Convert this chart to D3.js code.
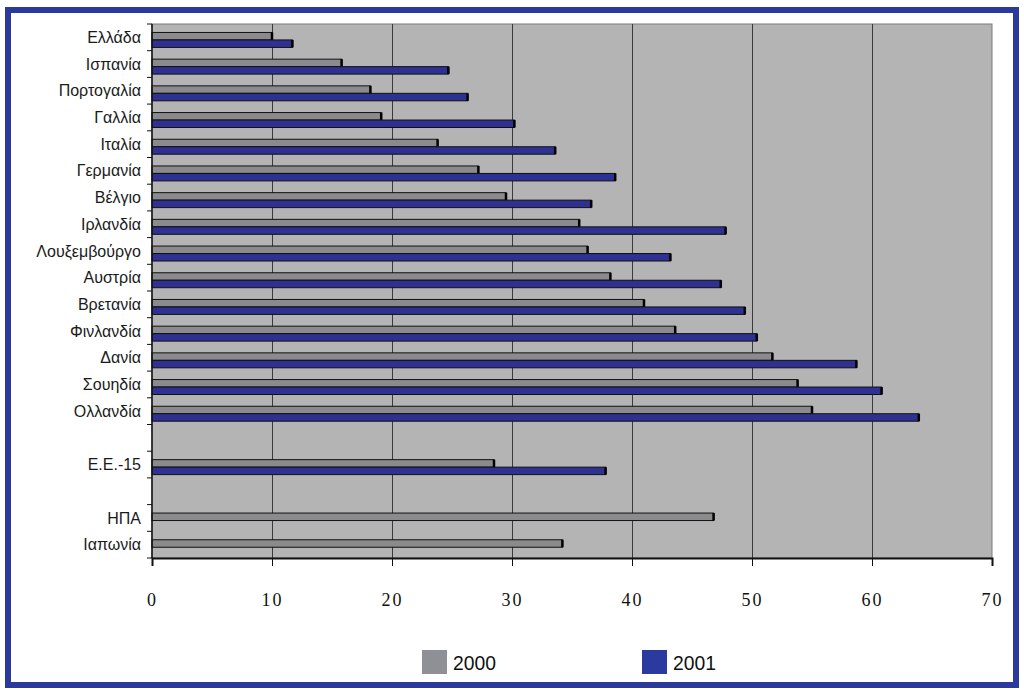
<!DOCTYPE html>
<html>
<head>
<meta charset="utf-8">
<script src="https://cdn.jsdelivr.net/npm/d3@7"></script>
<style>
  body { margin: 0; background: #fff; }
  svg { display: block; }
</style>
</head>
<body>
<div id="chart"></div>
<script>
// categories top to bottom, empty strings are spacer rows
var categories = ['Ελλάδα', 'Ισπανία', 'Πορτογαλία', 'Γαλλία', 'Ιταλία', 'Γερμανία', 'Βέλγιο',
  'Ιρλανδία', 'Λουξεμβούργο', 'Αυστρία', 'Βρετανία', 'Φινλανδία', 'Δανία', 'Σουηδία', 'Ολλανδία',
  '', 'Ε.Ε.-15', '', 'ΗΠΑ', 'Ιαπωνία'];
var values2000 = [10.0, 15.8, 18.2, 19.1, 23.8, 27.2, 29.5, 35.6, 36.3, 38.2, 41.0, 43.6, 51.7, 53.8, 55.0,
  null, 28.5, null, 46.8, 34.2];
var values2001 = [11.7, 24.7, 26.3, 30.2, 33.6, 38.6, 36.6, 47.8, 43.2, 47.4, 49.4, 50.4, 58.7, 60.8, 63.9,
  null, 37.8, null, null, null];
var seriesNames = ['2000', '2001'];
var seriesColors = ['#8b8b8d', '#2e3192'];
var legendColors = ['#8f9095', '#2b3a9e'];
var xTicks = [0, 10, 20, 30, 40, 50, 60, 70];

var width = 1024, height = 693;
var plot = { left: 152, right: 992, top: 24, bottom: 558 };

var svg = d3.select('#chart').append('svg')
  .attr('width', width)
  .attr('height', height);

svg.append('rect')
  .attr('width', width).attr('height', height)
  .attr('fill', '#fff');

// outer blue frame
svg.append('rect')
  .attr('x', 8).attr('y', 10)
  .attr('width', 1008).attr('height', 675)
  .attr('fill', 'none')
  .attr('stroke', '#2b3a9a')
  .attr('stroke-width', 6);

var x = d3.scaleLinear().domain([0, 70]).range([plot.left, plot.right]);
var rows = d3.range(categories.length);
var y = d3.scaleBand().domain(rows).range([plot.top, plot.bottom])
  .paddingInner(0.44).paddingOuter(0.22).align(0.72);
var ySub = d3.scaleBand().domain([0, 1]).range([0, y.bandwidth()]);
var step = y.step();

// plot background
svg.append('rect')
  .attr('x', plot.left).attr('y', plot.top)
  .attr('width', plot.right - plot.left).attr('height', plot.bottom - plot.top)
  .attr('fill', '#b4b4b4')
  .attr('stroke', '#7a7a7a')
  .attr('stroke-width', 1);

// vertical gridlines
svg.append('g').selectAll('line')
  .data(xTicks.filter(function (d) { return d > 0 && d < 70; }))
  .enter().append('line')
  .attr('x1', function (d) { return x(d) + 0.5; })
  .attr('x2', function (d) { return x(d) + 0.5; })
  .attr('y1', plot.top).attr('y2', plot.bottom)
  .attr('stroke', '#3a3a3a')
  .attr('stroke-width', 1);

// bars
var seriesData = [values2000, values2001];
seriesData.forEach(function (vals, si) {
  var present = rows.filter(function (i) { return vals[i] != null; });
  svg.append('g').selectAll('rect')
    .data(present)
    .enter().append('rect')
    .attr('x', x(0))
    .attr('y', function (i) { return y(i) + ySub(si); })
    .attr('width', function (i) { return x(vals[i]) - x(0); })
    .attr('height', ySub.bandwidth())
    .attr('fill', seriesColors[si])
    .attr('stroke', '#111')
    .attr('stroke-width', 1);

  // darker end cap
  svg.append('g').selectAll('line')
    .data(present)
    .enter().append('line')
    .attr('x1', function (i) { return x(vals[i]); })
    .attr('x2', function (i) { return x(vals[i]); })
    .attr('y1', function (i) { return y(i) + ySub(si); })
    .attr('y2', function (i) { return y(i) + ySub(si) + ySub.bandwidth(); })
    .attr('stroke', '#000')
    .attr('stroke-width', 2.5);
});

// y axis with ticks at band boundaries
svg.append('line')
  .attr('x1', plot.left).attr('x2', plot.left)
  .attr('y1', plot.top).attr('y2', plot.bottom)
  .attr('stroke', '#111').attr('stroke-width', 1.5);
svg.append('g').selectAll('line')
  .data(d3.range(categories.length + 1))
  .enter().append('line')
  .attr('x1', plot.left - 5).attr('x2', plot.left)
  .attr('y1', function (i) { return plot.top + i * step; })
  .attr('y2', function (i) { return plot.top + i * step; })
  .attr('stroke', '#111');

svg.append('g').selectAll('text')
  .data(rows)
  .enter().append('text')
  .attr('x', 141)
  .attr('y', function (i) { return plot.top + (i + 0.5) * step; })
  .attr('dy', '0.35em')
  .attr('text-anchor', 'end')
  .style('font-family', 'Liberation Sans, Arial, sans-serif')
  .style('font-size', '16px')
  .style('fill', '#1a1a1a')
  .text(function (i) { return categories[i]; });

// x axis
var xAxis = d3.axisBottom(x).tickValues(xTicks).tickSize(8).tickPadding(27);
var gx = svg.append('g')
  .attr('transform', 'translate(0,' + plot.bottom + ')')
  .call(xAxis);
gx.select('.domain').attr('stroke', '#111').attr('stroke-width', 2);
gx.selectAll('.tick line').attr('stroke', '#111');
gx.selectAll('.tick text')
  .style('font-family', 'Liberation Serif, Times New Roman, serif')
  .style('font-size', '18px')
  .style('letter-spacing', '2px')
  .style('fill', '#111');

// legend
var legendX = [422, 642];
seriesNames.forEach(function (name, i) {
  svg.append('rect')
    .attr('x', legendX[i]).attr('y', 650)
    .attr('width', 25).attr('height', 24)
    .attr('fill', legendColors[i]);
  svg.append('text')
    .attr('x', legendX[i] + 31).attr('y', 662)
    .attr('dy', '0.36em')
    .style('font-family', 'Liberation Sans Narrow, Liberation Sans, Arial, sans-serif')
    .style('font-size', '21px')
    .attr('textLength', 43)
    .attr('lengthAdjust', 'spacingAndGlyphs')
    .style('fill', '#111')
    .text(name);
});
</script>
</body>
</html>
